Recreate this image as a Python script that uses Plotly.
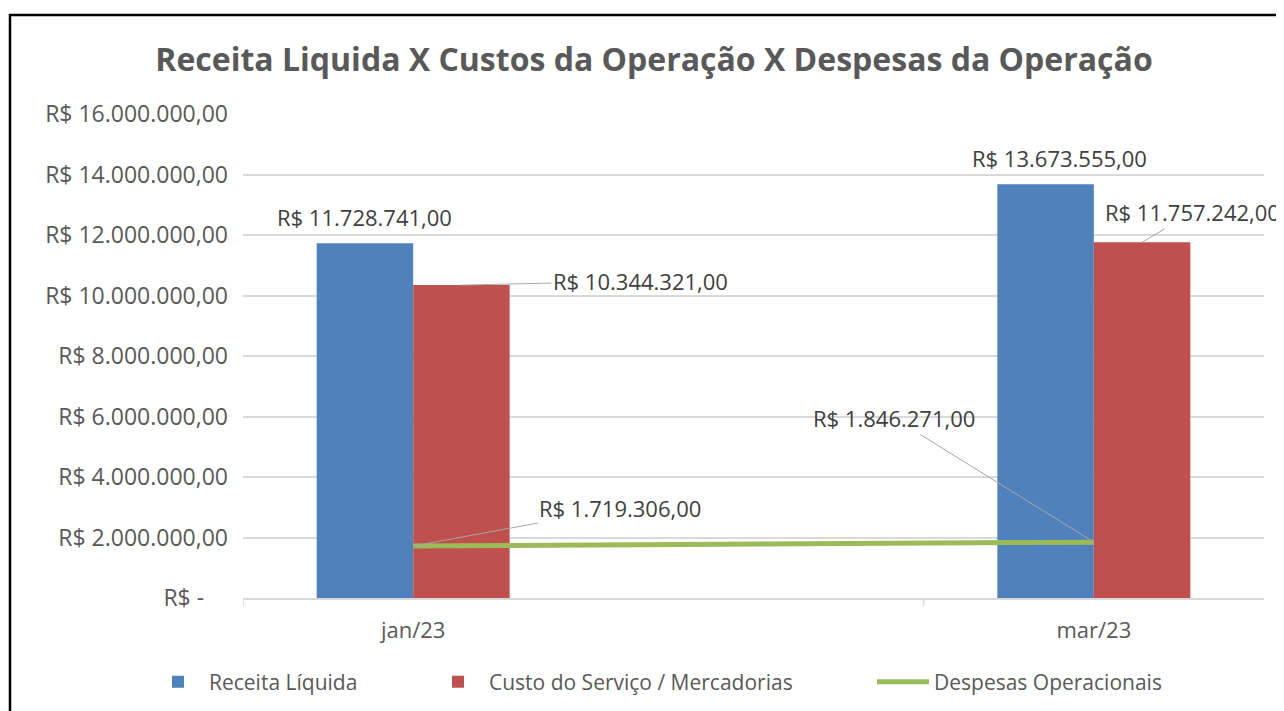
import plotly.graph_objects as go

# ---- data ----
categories = ["jan/23", "fev/23", "mar/23"]
tick_categories = ["jan/23", "mar/23"]
receita_liquida = [11728741, None, 13673555]
custo_servico = [10344321, None, 11757242]
despesas_operacionais = [1719306, None, 1846271]
series_names = ["Receita Líquida", "Custo do Serviço / Mercadorias", "Despesas Operacionais"]
y_ticks = [0, 2000000, 4000000, 6000000, 8000000, 10000000, 12000000, 14000000, 16000000]
title_text = "Receita Liquida X Custos da Operação X Despesas da Operação"

FONT = "Open Sans"
BLUE = "#4F81BD"
RED = "#C0504D"
GREEN = "#9BBB59"
TXT = "#595959"
LBL = "#404040"
BARGAP = 0.433
OFF = 8  # page body margin


def brl(v):
    if v == 0:
        return "R$ -\u00a0\u00a0\u00a0\u00a0"
    s = f"{v:,.2f}"
    s = s.replace(",", "#").replace(".", ",").replace("#", ".")
    return "R$ " + s


fig = go.Figure()
fig.add_trace(go.Bar(x=categories, y=receita_liquida, name=series_names[0],
                     marker=dict(color=BLUE, line=dict(width=0)), legend="legend"))
fig.add_trace(go.Bar(x=categories, y=custo_servico, name=series_names[1],
                     marker=dict(color=RED, line=dict(width=0)), legend="legend2"))
fig.add_trace(go.Scatter(x=categories, y=despesas_operacionais, name=series_names[2],
                         mode="lines", connectgaps=True,
                         line=dict(color=GREEN, width=5), legend="legend3"))

off = (1 - BARGAP) / 4.0
ann = []
lblfont = dict(family=FONT, size=22, color=LBL)


def idx(c):
    return categories.index(c)


ann.append(dict(x=idx("jan/23") - off, y=receita_liquida[idx("jan/23")], xref="x", yref="y",
                text=brl(receita_liquida[idx("jan/23")]), showarrow=False,
                yanchor="bottom", yshift=9, font=lblfont))
ann.append(dict(x=idx("mar/23") - off, y=receita_liquida[idx("mar/23")], xref="x", yref="y",
                text=brl(receita_liquida[idx("mar/23")]), showarrow=False,
                yanchor="bottom", yshift=9, xshift=14, font=lblfont))
ann.append(dict(x=idx("jan/23") + off, y=custo_servico[idx("jan/23")], xref="x", yref="y",
                text=brl(custo_servico[idx("jan/23")]), showarrow=True, arrowhead=0,
                arrowwidth=1, arrowcolor="#A6A6A6", ax=179, ay=-4, font=lblfont))
ann.append(dict(x=idx("mar/23") + off, y=custo_servico[idx("mar/23")], xref="x", yref="y",
                text=brl(custo_servico[idx("mar/23")]), showarrow=True, arrowhead=0,
                arrowwidth=1, arrowcolor="#A6A6A6", ax=50, ay=-30, font=lblfont))
ann.append(dict(x="jan/23", y=despesas_operacionais[idx("jan/23")], xref="x", yref="y",
                text=brl(despesas_operacionais[idx("jan/23")]), showarrow=True, arrowhead=0,
                arrowwidth=1, arrowcolor="#A6A6A6", ax=207, ay=-38, font=lblfont))
ann.append(dict(x="mar/23", y=despesas_operacionais[idx("mar/23")], xref="x", yref="y",
                text=brl(despesas_operacionais[idx("mar/23")]), showarrow=True, arrowhead=0,
                arrowwidth=1, arrowcolor="#A6A6A6", ax=-200, ay=-124, font=lblfont))

H = 484.0
W = 1021.0
shapes = [
    dict(type="rect", xref="paper", yref="paper", x0=(10 - 243) / W, x1=1.06,
         y0=-0.4, y1=(598 - 15) / H, line=dict(color="#000000", width=2.5),
         fillcolor="rgba(0,0,0,0)", layer="above"),
]
for b in [-0.5, 1.5]:
    shapes.append(dict(type="line", xref="x", yref="paper", x0=b, x1=b, y0=0, y1=-8 / H,
                       line=dict(color="#D9D9D9", width=1.5)))


def leg(text_px):
    return dict(orientation="h", x=(text_px - 243) / W, xanchor="left",
                y=(598 - 682) / H, yanchor="middle",
                font=dict(family=FONT, size=21, color=TXT),
                itemwidth=52, bgcolor="rgba(0,0,0,0)")


fig.update_layout(
    width=1284, height=711,
    paper_bgcolor="white", plot_bgcolor="white",
    margin=dict(l=243 - OFF, r=1284 - (1264 - OFF), t=114 - OFF, b=711 - (598 - OFF)),
    barmode="group", bargap=BARGAP, bargroupgap=0,
    title=dict(text="<b>" + title_text + "</b>", x=(654 - OFF) / 1284, xanchor="center",
               y=1 - (60 - OFF) / 711, yanchor="middle", xref="container", yref="container",
               font=dict(family=FONT, size=32, color=TXT)),
    font=dict(family=FONT, color=TXT),
    showlegend=True,
    legend=leg(210 - 63),
    legend2=leg(490 - 63),
    legend3=leg(935 - 63),
    annotations=ann,
    shapes=shapes,
)
fig.update_xaxes(type="category", categoryorder="array", categoryarray=categories,
                 range=[-0.5, len(categories) - 0.5],
                 tickmode="array", tickvals=tick_categories, ticktext=tick_categories,
                 showline=True, linecolor="#D9D9D9", linewidth=1.5,
                 showgrid=False, ticks="", ticklabelstandoff=12,
                 tickfont=dict(family=FONT, size=22, color=TXT))
fig.update_yaxes(range=[0, 16000000], tickmode="array", tickvals=y_ticks,
                 ticktext=[brl(v) for v in y_ticks],
                 showgrid=True, gridcolor="#D9D9D9", gridwidth=1.5,
                 zeroline=False, showline=False, ticks="", ticklabelstandoff=14,
                 tickfont=dict(family=FONT, size=23, color=TXT))

fig.write_html("out.html")
